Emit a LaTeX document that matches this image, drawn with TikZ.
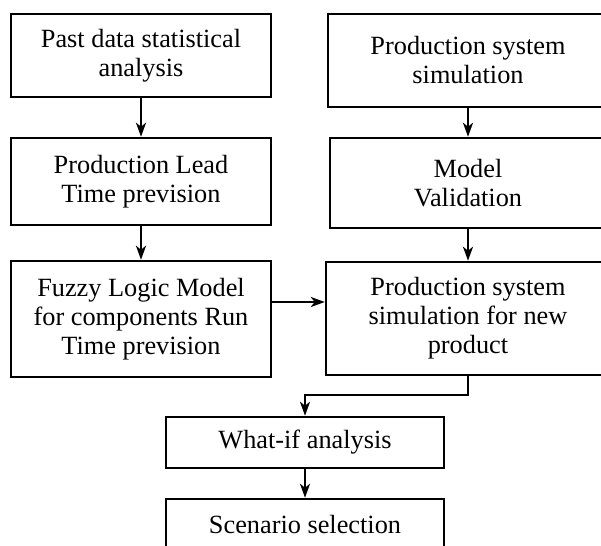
\documentclass[tikz,border=0pt]{standalone}
\usepackage{fontspec}
\setmainfont{Liberation Serif}
\usepackage{tikz}
\usetikzlibrary{arrows.meta}

\tikzset{
	stage/.style={draw, line width=2.5pt, align=center, inner sep=0pt,
		font=\fontsize{26.3}{29}\selectfont},
	flow/.style={line width=2.3pt, -{Stealth[length=14pt,width=10pt,inset=4pt]}}
}

\begin{document}
\begin{tikzpicture}[x=1pt, y=-1pt]

\clip (0,0) rectangle (601,545);

% left column
\node[stage, minimum width=260, minimum height=83] (past) at (141,55.5) {Past data statistical\\analysis};
\node[stage, minimum width=260, minimum height=87] (lead) at (141,181.5) {Production Lead\\Time prevision};
\node[stage, minimum width=260, minimum height=116] (fuzzy) at (141,319) {Fuzzy Logic Model\\for components Run\\Time prevision};

% right column
\node[stage, minimum width=280, minimum height=93] (sim) at (468,60.5) {Production system\\simulation};
\node[stage, minimum width=276, minimum height=90] (valid) at (468,183) {Model\\Validation};
\node[stage, minimum width=284, minimum height=113] (newprod) at (468,318.5) {Production system\\simulation for new\\product};

% bottom
\node[stage, minimum width=278, minimum height=51] (whatif) at (305,442.5) {What-if analysis};
\node[stage, minimum width=278, minimum height=51] (scen) at (305,524.5) {Scenario selection};

\draw[flow] (past) -- (lead);
\draw[flow] (lead) -- (fuzzy);
\draw[flow] (sim) -- (valid);
\draw[flow] (valid) -- (newprod);

\draw[flow] ([yshift=17pt]fuzzy.east) -- ([yshift=17pt]fuzzy.east -| newprod.west);
\draw[flow] (newprod.south) -- ++(0,19) -| (whatif.north);
\draw[flow] (whatif) -- (scen);

\end{tikzpicture}
\end{document}
